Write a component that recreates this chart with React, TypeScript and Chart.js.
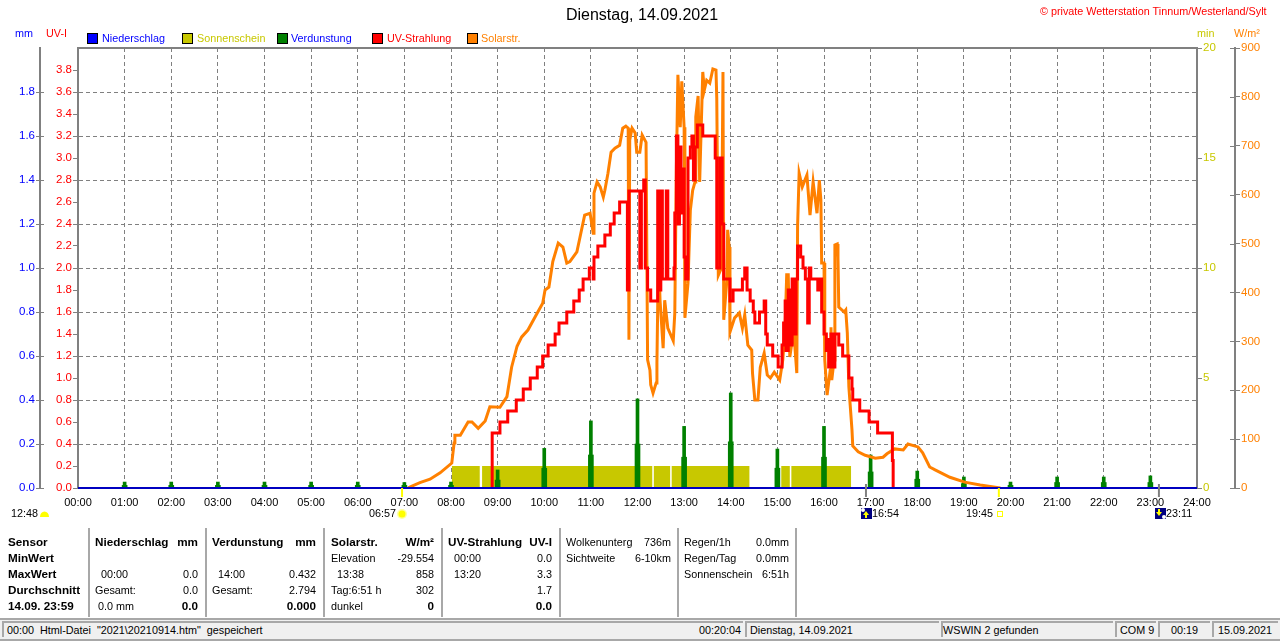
import React, { useEffect, useRef } from "react";
import { Chart, registerables } from "chart.js";

Chart.register(...registerables);

const FONT = "'Liberation Sans', Arial, sans-serif";
const GRAY = "#808080";
const BLUE = "#0000FF";
const OLIVE = "#C8C800";
const GREEN = "#008000";
const RED = "#FF0000";
const ORANGE = "#FF8000";

const solarMinutes = [425,427,440,453,466,481,484,485,492,502,507,515,524,530,543,552,558,565,571,579,591,598,601,606,611,618,624,629,633,642,646,652,659,663,664,668,672,676,678,682,686,691,697,701,705,708,709,710,713,717,719,723,726,731,733,736,737,740,744,745,747,749,753,755,759,766,768,770,772,775,777,780,781,785,788,791,794,795,798,800,804,806,809,813,817,821,822,824,828,830,831,835,836,838,839,845,851,855,858,862,867,868,871,875,878,883,887,891,896,903,907,910,912,914,916,921,925,926,928,932,938,942,946,951,954,956,957,960,961,964,968,969,970,973,974,977,978,979,986,988,990,992,996,997,1004,1013,1026,1036,1041,1051,1062,1068,1081,1087,1096,1103,1122,1141,1161,1187];
const solarValues = [0,2,11,18,31,51,92,108,108,135,135,122,137,166,165,187,247,290,309,323,358,378,405,411,463,501,493,460,463,483,513,558,562,521,603,626,616,595,609,644,687,695,701,736,740,736,303,712,736,726,687,687,722,707,262,241,211,194,215,256,487,384,286,384,327,301,358,650,845,738,832,738,348,419,568,609,626,759,802,626,851,814,834,828,857,855,798,435,450,851,344,425,528,493,319,348,358,327,354,292,282,235,180,180,247,276,231,225,237,221,262,329,436,436,268,323,235,534,644,616,640,558,626,562,630,589,460,460,262,190,241,329,221,262,497,499,472,370,360,364,317,207,119,86,74,67,61,63,70,80,78,90,84,72,43,37,22,12,6,0];

const uvMinutes = [532,533,543,553,564,573,582,591,598,605,614,619,629,638,645,650,658,663,664,669,678,685,690,697,707,709,723,725,728,730,733,737,746,748,750,752,757,759,767,768,770,772,774,776,778,780,782,785,788,790,792,794,797,804,820,822,826,829,831,839,843,855,858,861,865,869,871,877,883,885,887,894,901,906,908,910,911,914,916,919,921,924,926,930,933,936,939,941,943,952,954,957,960,963,964,966,969,972,974,979,984,992,996,997,1006,1018,1029,1048,1049];
const uvValues = [0,0.5,0.6,0.7,0.8,0.9,1.0,1.1,1.2,1.3,1.4,1.5,1.6,1.7,1.8,1.9,2.0,1.9,2.1,2.2,2.3,2.4,2.5,2.6,1.8,2.7,2.0,2.7,2.8,2.0,1.8,1.7,2.7,1.8,2.7,1.9,2.7,1.9,2.0,2.5,3.2,2.4,3.1,2.5,2.9,2.1,1.9,3.0,3.1,3.2,2.8,3.1,3.3,3.2,3.0,2.0,3.0,2.4,1.9,1.7,1.8,1.9,2.0,1.8,1.7,1.6,1.5,1.6,1.7,1.4,1.3,1.2,1.1,1.3,1.5,1.7,1.25,1.8,1.3,1.9,1.4,1.9,2.2,2.1,2.0,1.9,1.5,2.0,1.9,1.8,1.9,1.6,1.4,1.25,1.35,1.1,1.4,1.1,1.4,1.3,1.2,1.0,0.9,0.8,0.7,0.6,0.5,0.25,0];

const sunMinutes = [481,517,520,739,741,762,764,864,905,916,918,995];
const sunValues = [1,0,1,0,1,0,1,0,1,0,1,0];

const evapMinutes = [60,120,180,240,300,360,420,480,540,600,660,720,780,840,900,960,1020,1080,1140,1200,1260,1320,1380];
const evapPeak = [0.027,0.027,0.027,0.027,0.027,0.027,0.025,0.027,0.082,0.18,0.305,0.405,0.28,0.432,0.177,0.28,0.15,0.077,0.05,0.027,0.05,0.05,0.055];
const evapBase = [0.012,0.012,0.012,0.012,0.012,0.012,0.012,0.012,0.036,0.09,0.15,0.2,0.14,0.21,0.09,0.14,0.073,0.04,0.02,0.012,0.025,0.025,0.025];

const rainMinutes = [0, 1440];
const rainValues = [0, 0];

const dayEventMinutes = [417, 1014, 1185, 1391];
const dayEventColors = ["#FFFF00", GRAY, "#FFFF00", GRAY];

const zip = (xs: number[], ys: number[]) => xs.map((x, i) => ({ x, y: ys[i] }));
const hourLabel = (m: number) => String(m / 60).padStart(2, "0") + ":00";

const legendItems = [
  { label: "Niederschlag", box: BLUE, text: BLUE, bx: 87, tx: 102 },
  { label: "Sonnenschein", box: OLIVE, text: OLIVE, bx: 182, tx: 197 },
  { label: "Verdunstung", box: GREEN, text: BLUE, bx: 277, tx: 291 },
  { label: "UV-Strahlung", box: RED, text: RED, bx: 372, tx: 387 },
  { label: "Solarstr.", box: ORANGE, text: ORANGE, bx: 467, tx: 481 },
];

type Cell = [number, number, string, boolean?, boolean?];
const rowY = [542, 558, 574, 590, 606];
const cells: Cell[] = [
  [8, 0, "Sensor", false, true], [8, 1, "MinWert", false, true], [8, 2, "MaxWert", false, true], [8, 3, "Durchschnitt", false, true], [8, 4, "14.09. 23:59", false, true],
  [95, 0, "Niederschlag", false, true], [198, 0, "mm", true, true], [101, 2, "00:00"], [198, 2, "0.0", true], [95, 3, "Gesamt:"], [198, 3, "0.0", true], [98, 4, "0.0 mm"], [198, 4, "0.0", true, true],
  [212, 0, "Verdunstung", false, true], [316, 0, "mm", true, true], [218, 2, "14:00"], [316, 2, "0.432", true], [212, 3, "Gesamt:"], [316, 3, "2.794", true], [316, 4, "0.000", true, true],
  [331, 0, "Solarstr.", false, true], [434, 0, "W/m²", true, true], [331, 1, "Elevation"], [434, 1, "-29.554", true], [337, 2, "13:38"], [434, 2, "858", true], [331, 3, "Tag:6:51 h"], [434, 3, "302", true], [331, 4, "dunkel"], [434, 4, "0", true, true],
  [448, 0, "UV-Strahlung", false, true], [552, 0, "UV-I", true, true], [454, 1, "00:00"], [552, 1, "0.0", true], [454, 2, "13:20"], [552, 2, "3.3", true], [552, 3, "1.7", true], [552, 4, "0.0", true, true],
  [566, 0, "Wolkenunterg"], [671, 0, "736m", true], [566, 1, "Sichtweite"], [671, 1, "6-10km", true],
  [684, 0, "Regen/1h"], [789, 0, "0.0mm", true], [684, 1, "Regen/Tag"], [789, 1, "0.0mm", true], [684, 2, "Sonnenschein"], [789, 2, "6:51h", true],
];
const separators = [88, 205, 323, 441, 559, 677, 795];
const panels = [
  { x: 2, w: 741 }, { x: 745, w: 194 }, { x: 941, w: 172 }, { x: 1115, w: 41 }, { x: 1158, w: 52 }, { x: 1212, w: 66 },
];
const panelTexts: [number, string, boolean?][] = [
  [7, '00:00  Html-Datei  "2021\\20210914.htm"  gespeichert'],
  [741, "00:20:04", true],
  [750, "Dienstag, 14.09.2021"],
  [943, "WSWIN 2 gefunden"],
  [1120, "COM 9"],
  [1171, "00:19"],
  [1218, "15.09.2021"],
];
const eventTexts: [number, string][] = [[11, "12:48"], [369, "06:57"], [872, "16:54"], [966, "19:45"], [1166, "23:11"]];

function Text(p: { x: number; y: number; right?: boolean; bold?: boolean; color?: string; size?: number; children: React.ReactNode }) {
  const style: React.CSSProperties = {
    position: "absolute",
    top: p.y - 7,
    lineHeight: "14px",
    whiteSpace: "pre",
    fontFamily: FONT,
    fontSize: p.size ?? (p.bold ? 11.7 : 10.8),
    fontWeight: p.bold ? 700 : 400,
    color: p.color ?? "#000",
  };
  if (p.right) style.right = 1280 - p.x;
  else style.left = p.x;
  return <div style={style}>{p.children}</div>;
}

const framePlugin = {
  id: "frame",
  afterDraw(chart: any) {
    const { ctx, chartArea: a, scales } = chart;
    ctx.save();
    ctx.strokeStyle = GRAY;
    ctx.lineWidth = 2;
    ctx.beginPath();
    ctx.moveTo(a.left - 1, a.top);
    ctx.lineTo(a.right + 1, a.top);
    ctx.stroke();
    ctx.lineWidth = 1;
    ctx.beginPath();
    for (const t of scales.mm.ticks) {
      const y = Math.round(scales.mm.getPixelForValue(t.value)) + 0.5;
      ctx.moveTo(scales.mm.right, y);
      ctx.lineTo(scales.mm.right + 4, y);
    }
    for (const t of scales.watt.ticks) {
      const y = Math.round(scales.watt.getPixelForValue(t.value)) + 0.5;
      ctx.moveTo(scales.watt.left - 5, y);
      ctx.lineTo(scales.watt.left, y);
    }
    ctx.stroke();
    ctx.lineWidth = 2;
    dayEventMinutes.forEach((m, i) => {
      const x = scales.x.getPixelForValue(m);
      ctx.strokeStyle = dayEventColors[i];
      ctx.beginPath();
      ctx.moveTo(x, a.bottom + (dayEventColors[i] === GRAY ? -4 : 0));
      ctx.lineTo(x, a.bottom + 9);
      ctx.stroke();
    });
    ctx.restore();
  },
};

const yAxis = (pos: string, weight: number, width: number, color: string, max: number, step: number, digits: number, tickLength: number, hideTop: boolean, grid = false) => ({
  type: "linear",
  position: pos,
  weight,
  min: 0,
  max,
  afterFit(s: any) { s.width = width; },
  afterBuildTicks(s: any) { if (hideTop) s.ticks = s.ticks.filter((t: any) => t.value < max - 1e-9); },
  border: { display: true, color: GRAY, width: 2, dash: grid ? [4, 3] : [] },
  grid: {
    drawOnChartArea: grid,
    color: GRAY,
    lineWidth: 1,
    tickColor: GRAY,
    tickLength,
    tickBorderDash: [],
  },
  ticks: {
    stepSize: step,
    autoSkip: false,
    color,
    padding: 1,
    font: { family: FONT, size: 11.5 },
    callback: (v: number) => (digits ? v.toFixed(digits) : String(v)),
  },
});

export default function App() {
  const ref = useRef<HTMLCanvasElement>(null);
  useEffect(() => {
    document.body.style.margin = "0";
    const chart = new Chart(ref.current!, {
      type: "bar",
      data: {
        datasets: [
          { type: "line", label: "Niederschlag", data: zip(rainMinutes, rainValues), yAxisID: "mm", borderColor: "#0000C0", borderWidth: 2, pointRadius: 0, clip: false, order: 0 },
          { type: "line", label: "UV-Strahlung", data: zip(uvMinutes, uvValues), yAxisID: "uv", borderColor: RED, borderWidth: 3, pointRadius: 0, stepped: "before", order: 1 },
          { type: "line", label: "Solarstr.", data: zip(solarMinutes, solarValues), yAxisID: "watt", borderColor: ORANGE, borderWidth: 3, pointRadius: 0, tension: 0, order: 2 },
          { type: "bar", label: "Verdunstung", data: zip(evapMinutes, evapPeak), yAxisID: "mm", backgroundColor: GREEN, barThickness: 3, grouped: false, order: 3 },
          { type: "bar", label: "Verdunstung Basis", data: zip(evapMinutes, evapBase), yAxisID: "mm", backgroundColor: GREEN, barThickness: 5, grouped: false, order: 3 },
          { type: "line", label: "Sonnenschein", data: zip(sunMinutes, sunValues), yAxisID: "sun", borderWidth: 0, borderColor: OLIVE, backgroundColor: OLIVE, pointRadius: 0, stepped: "before", fill: "origin", order: 5 },
        ] as any,
      },
      options: {
        responsive: false,
        animation: false,
        devicePixelRatio: 1,
        layout: { padding: { left: 4, right: 0, top: 0, bottom: 123 } },
        plugins: {
          legend: { display: false },
          tooltip: { enabled: false },
          title: {
            display: true,
            text: "Dienstag, 14.09.2021",
            color: "#000",
            font: { family: FONT, size: 16, weight: "normal", lineHeight: 1.2 },
            padding: { top: 6.4, bottom: 22.4 },
          },
        },
        scales: {
          x: {
            type: "linear",
            min: 0,
            max: 1440,
            offset: false,
            afterFit(s: any) { s.height = 30; },
            border: { display: true, color: GRAY, width: 2, dash: [4, 3] },
            grid: { color: GRAY, lineWidth: 1, drawTicks: false, offset: false },
            ticks: {
              stepSize: 60,
              autoSkip: false,
              maxRotation: 0,
              color: "#000",
              padding: 8,
              font: { family: FONT, size: 11 },
              callback: (v: any) => hourLabel(Number(v)),
            },
          },
          mm: yAxis("left", 2, 36, BLUE, 2, 0.2, 1, 4, true, true),
          uv: yAxis("left", 1, 38, RED, 4, 0.2, 1, 5, true),
          sun: yAxis("right", 1, 38, OLIVE, 20, 5, 0, 5, false),
          watt: yAxis("right", 2, 45, ORANGE, 900, 100, 0, 5, false),
        } as any,
      },
      plugins: [framePlugin],
    } as any);
    return () => chart.destroy();
  }, []);

  return (
    <div style={{ position: "fixed", left: 0, top: 0, width: 1280, height: 641, background: "#fff", overflow: "hidden" }}>
      <canvas ref={ref} width={1280} height={641} style={{ display: "block", position: "absolute", left: 0, top: 0 }} />

      <Text x={1040} y={11} color={RED} size={10.8}>© private Wetterstation Tinnum/Westerland/Sylt</Text>
      <Text x={15} y={33} color={BLUE}>mm</Text>
      <Text x={46} y={33} color={RED}>UV-I</Text>
      <Text x={1197} y={33} color={OLIVE}>min</Text>
      <Text x={1234} y={33} color={ORANGE}>W/m²</Text>

      {legendItems.map((l) => (
        <React.Fragment key={l.label}>
          <div style={{ position: "absolute", left: l.bx, top: 33, width: 9, height: 9, background: l.box, border: "1px solid #000" }} />
          <Text x={l.tx} y={38} color={l.text}>{l.label}</Text>
        </React.Fragment>
      ))}

      {eventTexts.map(([x, s]) => <Text key={s} x={x} y={513}>{s}</Text>)}
      <svg width={1280} height={30} style={{ position: "absolute", left: 0, top: 500 }}>
        <path d="M40 17 a4.5 5.5 0 0 1 9 0 z" fill="#FFFF00" />
        <circle cx={402} cy={14} r={5} fill="#FFFFA0" />
        <circle cx={402} cy={14} r={3.5} fill="#FFFF00" />
        <rect x={861} y={8} width={11} height={11} fill="#000080" />
        <circle cx={863} cy={10} r={2} fill="#fff" />
        <path d="M866 11 l3 4 h-2 v3 h-2 v-3 h-2 z" fill="#FFFF00" />
        <rect x={997.5} y={11.5} width={5} height={5} fill="none" stroke="#FFFF00" />
        <rect x={1155} y={8} width={11} height={11} fill="#000080" />
        <circle cx={1164} cy={17} r={2} fill="#fff" />
        <path d="M1158 9 h2 v3 h2 l-3 4 l-3 -4 h2 z" fill="#FFFF00" />
      </svg>

      {separators.map((x) => (
        <div key={x} style={{ position: "absolute", left: x, top: 528, width: 2, height: 89, background: "#A8A8A8" }} />
      ))}
      {cells.map(([x, r, s, right, bold], i) => (
        <Text key={i} x={x} y={rowY[r]} right={right} bold={bold}>{s}</Text>
      ))}

      <div style={{ position: "absolute", left: 0, top: 618, width: 1280, height: 2, background: "#A8A8A8" }} />
      <div style={{ position: "absolute", left: 0, top: 620, width: 1280, height: 21, background: "#F0F0F0" }} />
      <div style={{ position: "absolute", left: 0, top: 639, width: 1280, height: 2, background: "#A8A8A8" }} />
      {panels.map((p) => (
        <div key={p.x} style={{ position: "absolute", left: p.x, top: 621, width: p.w, height: 16, borderLeft: "2px solid #A8A8A8", borderTop: "2px solid #A8A8A8", boxSizing: "border-box" }} />
      ))}
      {panelTexts.map(([x, s, right]) => <Text key={s} x={x} y={630} right={right}>{s}</Text>)}
    </div>
  );
}
